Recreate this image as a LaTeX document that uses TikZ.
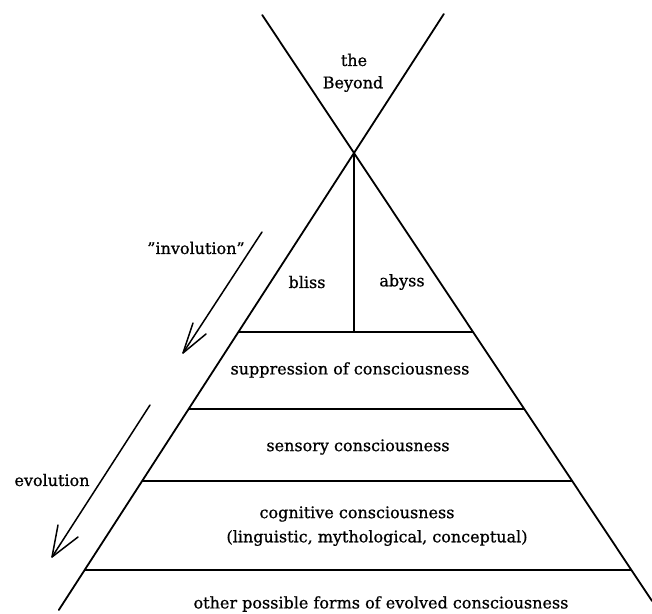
\documentclass[tikz,border=0pt]{standalone}
\usepackage{fontspec}
\setmainfont{DejaVu Serif}[FakeBold=0.8]
\begin{document}
\begin{tikzpicture}[x=1pt,y=-1pt,
  lbl/.style={inner sep=0pt,font=\fontsize{16}{19}\selectfont},
  edge/.style={line width=1.8pt,line cap=round},
  level/.style={line width=2.2pt},
  arr/.style={line width=1.5pt,line cap=round,line join=round}]
\useasboundingbox[fill=white] (0,0) rectangle (652,613);
% pyramid geometry
\coordinate (apex) at (354,153);
\coordinate (tl) at (262.2,15);
\coordinate (br) at (652,601);
\coordinate (tr) at (443.8,14);
\coordinate (bl) at (58.8,610);
\draw[edge] (tl) -- (br);
\draw[edge] (tr) -- (bl);
% levels
\coordinate (l1a) at (238.4,332); \coordinate (l1b) at (473.0,332);
\coordinate (l2a) at (188.6,409); \coordinate (l2b) at (524.2,409);
\coordinate (l3a) at (142.1,481); \coordinate (l3b) at (572.1,481);
\coordinate (l4a) at (84.6,570);  \coordinate (l4b) at (631.3,570);
\coordinate (mid) at (354,332);
\draw[level] (l1a) -- (l1b);
\draw[level] (l2a) -- (l2b);
\draw[level] (l3a) -- (l3b);
\draw[level] (l4a) -- (l4b);
\draw[edge] (apex) -- (mid);
% labels
\node[lbl] (the) at (354,60) {the};
\node[lbl] (beyond) at (353,84) {Beyond};
\node[lbl] (bliss) at (307,282) {bliss};
\node[lbl] (abyss) at (402,282) {abyss};
\node[lbl] (supp) at (350,370) {suppression of consciousness};
\node[lbl] (sens) at (358,447) {sensory consciousness};
\node[lbl] (cogn) at (357,514) {cognitive consciousness};
\node[lbl] (ling) at (377,538) {(linguistic, mythological, conceptual)};
\node[lbl] (other) at (381,604) {other possible forms of evolved consciousness};
\node[lbl] (invo) at (196,248) {\char"22 involution\char"22};
\node[lbl] (evo) at (52,480) {evolution};
% involution arrow
\coordinate (ia) at (262,232);
\coordinate (it) at (183,353);
\coordinate (ib1) at (193,323);
\coordinate (ib2) at (206,334);
\draw[arr] (ia) -- (it);
\draw[arr] (ib1) -- (it) -- (ib2);
% evolution arrow
\coordinate (ea) at (150,405);
\coordinate (et) at (52,557);
\coordinate (eb1) at (58,525);
\coordinate (eb2) at (78,537);
\draw[arr] (ea) -- (et);
\draw[arr] (eb1) -- (et) -- (eb2);
\end{tikzpicture}
\end{document}
